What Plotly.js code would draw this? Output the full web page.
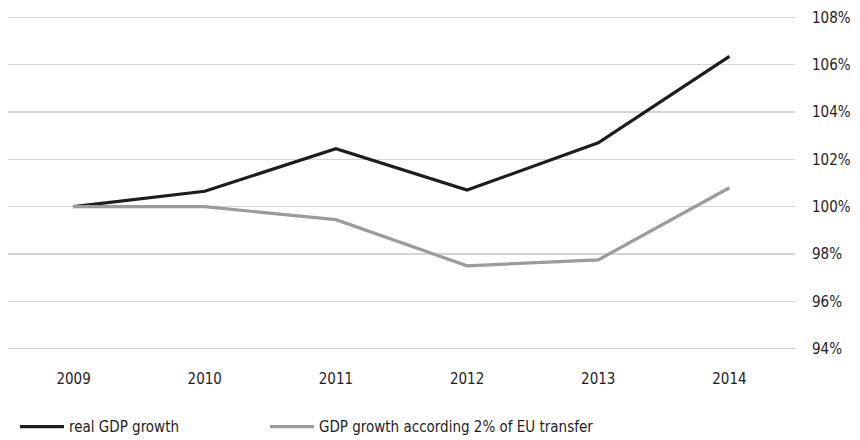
<!DOCTYPE html>
<html>
<head>
<meta charset="utf-8">
<script src="https://cdn.plot.ly/plotly-3.0.1.min.js"></script>
<style>html,body{margin:0;padding:0;background:#fff;}#chart{width:860px;height:440px;}</style>
</head>
<body>
<div id="chart"></div>
<script>
const years = ['2009', '2010', '2011', '2012', '2013', '2014'];
const realGdp = [100.0, 100.65, 102.45, 100.7, 102.7, 106.35];
const euTransfer = [100.0, 100.0, 99.45, 97.5, 97.75, 100.8];
const yTicks = [94, 96, 98, 100, 102, 104, 106, 108];
const yTickLabels = yTicks.map(v => v + '%');
const seriesNames = ['real GDP growth', 'GDP growth according 2% of EU transfer'];

const font = "'DejaVu Sans Condensed', 'Liberation Sans Narrow', 'Roboto', sans-serif";

const traces = [
  {x: years, y: realGdp, name: seriesNames[0], type: 'scatter', mode: 'lines',
   legend: 'legend', line: {color: '#1f1c1d', width: 3.2}},
  {x: years, y: euTransfer, name: seriesNames[1], type: 'scatter', mode: 'lines',
   legend: 'legend2', line: {color: '#9b9b9b', width: 3.2}}
];

const legendBase = {orientation: 'h', xref: 'container', yref: 'container',
  xanchor: 'left', yanchor: 'middle', y: 0.03, itemwidth: 44,
  bgcolor: 'rgba(0,0,0,0)', font: {family: font, size: 15, color: '#1f1c1d'}};

const layout = {
  width: 860, height: 440,
  margin: {l: 8, r: 65, t: 15, b: 89},
  paper_bgcolor: '#fff', plot_bgcolor: '#fff',
  font: {family: font, size: 15, color: '#1f1c1d'},
  showlegend: true,
  legend: Object.assign({}, legendBase, {x: 0.0174}),
  legend2: Object.assign({}, legendBase, {x: 0.3081}),
  xaxis: {type: 'category', range: [-0.5, 5.5], showgrid: false, zeroline: false,
          showline: false, ticks: '', ticklabelstandoff: 17, fixedrange: true},
  yaxis: {side: 'right', range: [93.9, 108.1], tickvals: yTicks, ticktext: yTickLabels,
          showgrid: true, gridcolor: '#d4d4d4', gridwidth: 1.5, zeroline: false,
          showline: false, ticks: '', ticklabelstandoff: 16}
};

Plotly.newPlot('chart', traces, layout, {displayModeBar: false, staticPlot: true});
</script>
</body>
</html>
